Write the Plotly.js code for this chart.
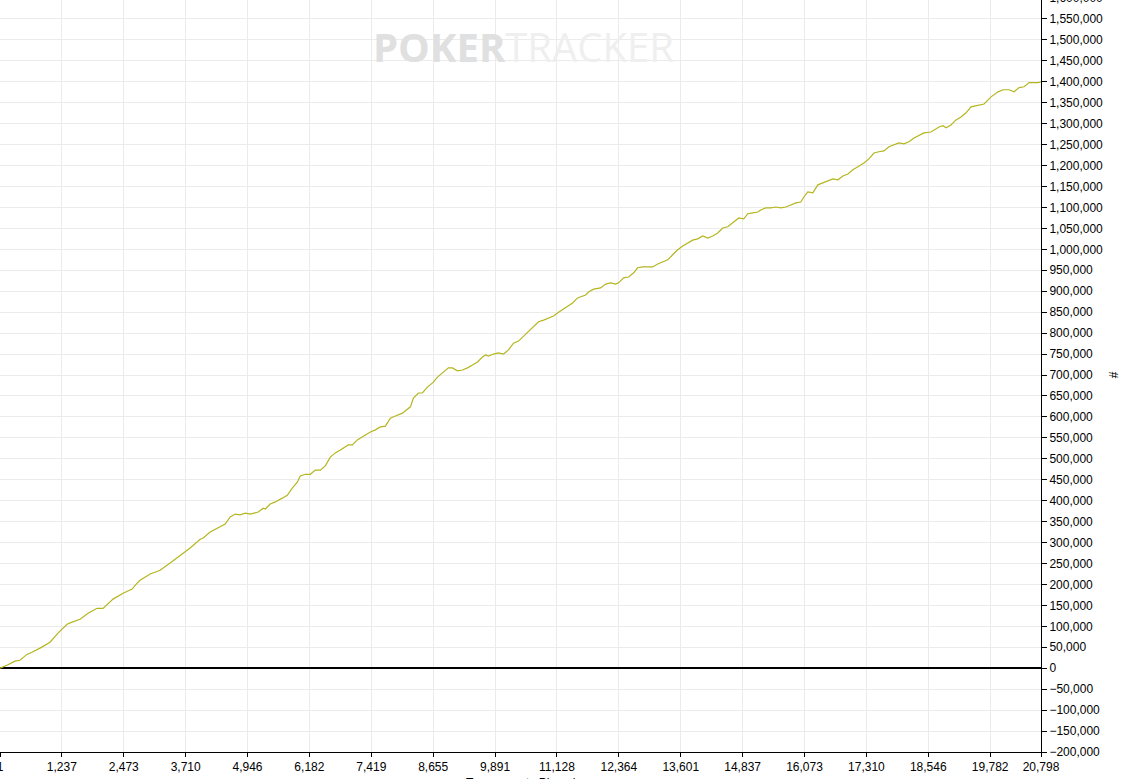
<!DOCTYPE html>
<html>
<head>
<meta charset="utf-8">
<script src="https://cdn.plot.ly/plotly-3.0.1.min.js"></script>
<style>
html,body{margin:0;padding:0;overflow:hidden;background:#fff;width:1121px;height:779px;}
#chart{position:absolute;left:0;top:-12px;width:1121px;height:791px;}
</style>
</head>
<body>
<div id="chart"></div>
<script>
// Hands played (x) and cumulative result (y)
const hands = [1,140,300,400,540,640,800,1000,1160,1340,1440,1600,1760,1940,2060,2160,2260,2460,2640,2740,2800,3000,3200,3400,3600,3800,4000,4060,4200,4340,4440,4500,4600,4700,4800,4900,5000,5160,5260,5300,5400,5500,5640,5740,5840,5940,6000,6100,6200,6300,6400,6500,6600,6700,6800,6960,7040,7140,7260,7400,7500,7600,7700,7800,7900,8040,8200,8260,8360,8440,8540,8660,8740,8840,8960,9040,9140,9240,9340,9440,9540,9640,9700,9760,9860,9960,10060,10160,10260,10360,10460,10560,10660,10760,10860,10960,11060,11160,11260,11340,11440,11540,11600,11700,11760,11860,12000,12100,12200,12300,12360,12460,12560,12660,12740,12840,12940,13040,13140,13240,13340,13440,13540,13640,13740,13840,13940,14040,14140,14240,14340,14440,14540,14640,14760,14860,14940,15040,15140,15200,15300,15400,15500,15600,15700,15800,15900,16000,16060,16140,16240,16340,16440,16540,16640,16740,16840,16940,17040,17140,17260,17360,17460,17560,17660,17760,17860,17960,18060,18160,18260,18360,18460,18600,18660,18760,18840,18900,19000,19100,19200,19300,19400,19540,19660,19800,19940,20040,20160,20260,20360,20460,20560,20640,20740,20798];
const results = [0,7000,17000,19000,33000,38000,48000,62000,84000,105000,110000,117000,131000,143000,143000,155000,165000,179000,189000,203000,210000,225000,234000,251000,268000,287000,308000,311000,325000,334000,339000,344000,361000,368000,366000,370000,368000,373000,382000,380000,392000,397000,406000,413000,430000,444000,459000,463000,463000,473000,473000,483000,504000,514000,521000,533000,533000,545000,554000,564000,569000,576000,578000,597000,602000,609000,624000,645000,657000,657000,671000,683000,695000,705000,717000,717000,710000,712000,717000,724000,731000,743000,748000,745000,750000,753000,750000,760000,776000,781000,793000,805000,815000,827000,831000,836000,841000,850000,858000,865000,872000,884000,886000,891000,898000,905000,908000,917000,920000,917000,920000,932000,934000,944000,956000,958000,958000,958000,965000,970000,975000,987000,999000,1008000,1015000,1022000,1025000,1032000,1027000,1032000,1039000,1051000,1054000,1063000,1075000,1073000,1085000,1087000,1089000,1094000,1099000,1099000,1101000,1099000,1101000,1106000,1111000,1113000,1125000,1137000,1135000,1154000,1159000,1163000,1168000,1166000,1175000,1180000,1190000,1197000,1206000,1216000,1230000,1233000,1235000,1245000,1249000,1254000,1252000,1257000,1266000,1273000,1278000,1280000,1285000,1292000,1295000,1290000,1297000,1309000,1316000,1326000,1340000,1343000,1347000,1364000,1376000,1381000,1381000,1376000,1386000,1388000,1398000,1398000,1398000,1400000];

const xTickVals = [1,1237,2473,3710,4946,6182,7419,8655,9891,11128,12364,13601,14837,16073,17310,18546,19782,20798];
const xTickText = ["1","1,237","2,473","3,710","4,946","6,182","7,419","8,655","9,891","11,128","12,364","13,601","14,837","16,073","17,310","18,546","19,782","20,798"];
const xTitle = "Tournaments Played";
const yTitle = "#";
const watermarkBold = "POKER";
const watermarkLight = "TRACKER";

const font = "Liberation Sans, Arial, sans-serif";

const trace = {
  x: hands, y: results, type: "scatter", mode: "lines",
  line: {color: "#b5b520", width: 1.2},
  hoverinfo: "x+y"
};

const layout = {
  width: 1121, height: 791,
  margin: {l: 0, r: 80, t: 10, b: 27, pad: 0},
  paper_bgcolor: "#fff", plot_bgcolor: "#fff",
  showlegend: false,
  font: {family: font, size: 12, color: "#000"},
  xaxis: {
    range: [1, 20798], tickmode: "array", tickvals: xTickVals, ticktext: xTickText,
    showgrid: true, gridcolor: "#ebebeb", gridwidth: 1,
    ticks: "outside", ticklen: 4, tickcolor: "#000", tickwidth: 1,
    showline: true, linecolor: "#000", linewidth: 1, zeroline: false,
    tickfont: {family: font, size: 12, color: "#000"},
    ticklabeloverflow: "allow",
    automargin: false
  },
  yaxis: {
    side: "right", range: [-200000, 1600000], tick0: 0, dtick: 50000,
    tickformat: ",d", showgrid: true, gridcolor: "#ebebeb", gridwidth: 1,
    ticks: "outside", ticklen: 5, tickcolor: "#000", tickwidth: 1,
    showline: true, linecolor: "#000", linewidth: 1,
    zeroline: true, zerolinecolor: "#000", zerolinewidth: 1.5,
    tickfont: {family: font, size: 12, color: "#000"},
    ticklabeloverflow: "allow",
    automargin: false,
    title: {text: yTitle, font: {family: font, size: 12, color: "#000"}, standoff: 8}
  },
  annotations: [{
    xref: "paper", yref: "paper", x: 0.503, y: 0.936, showarrow: false,
    xanchor: "center", yanchor: "middle",
    text: "<b><span style='color:#e0e0e0'>" + watermarkBold + "</span></b><span style='color:#efefef'>" + watermarkLight + "</span>",
    font: {family: "Open Sans, sans-serif", size: 40, color: "#e8e8e8"}
  }, {
    xref: "paper", yref: "paper", x: 0.5, y: -0.029, showarrow: false,
    xanchor: "center", yanchor: "top",
    text: xTitle,
    font: {family: font, size: 12, color: "#000"}
  }]
};

Plotly.newPlot("chart", [trace], layout, {displayModeBar: false, staticPlot: true});
</script>
</body>
</html>
